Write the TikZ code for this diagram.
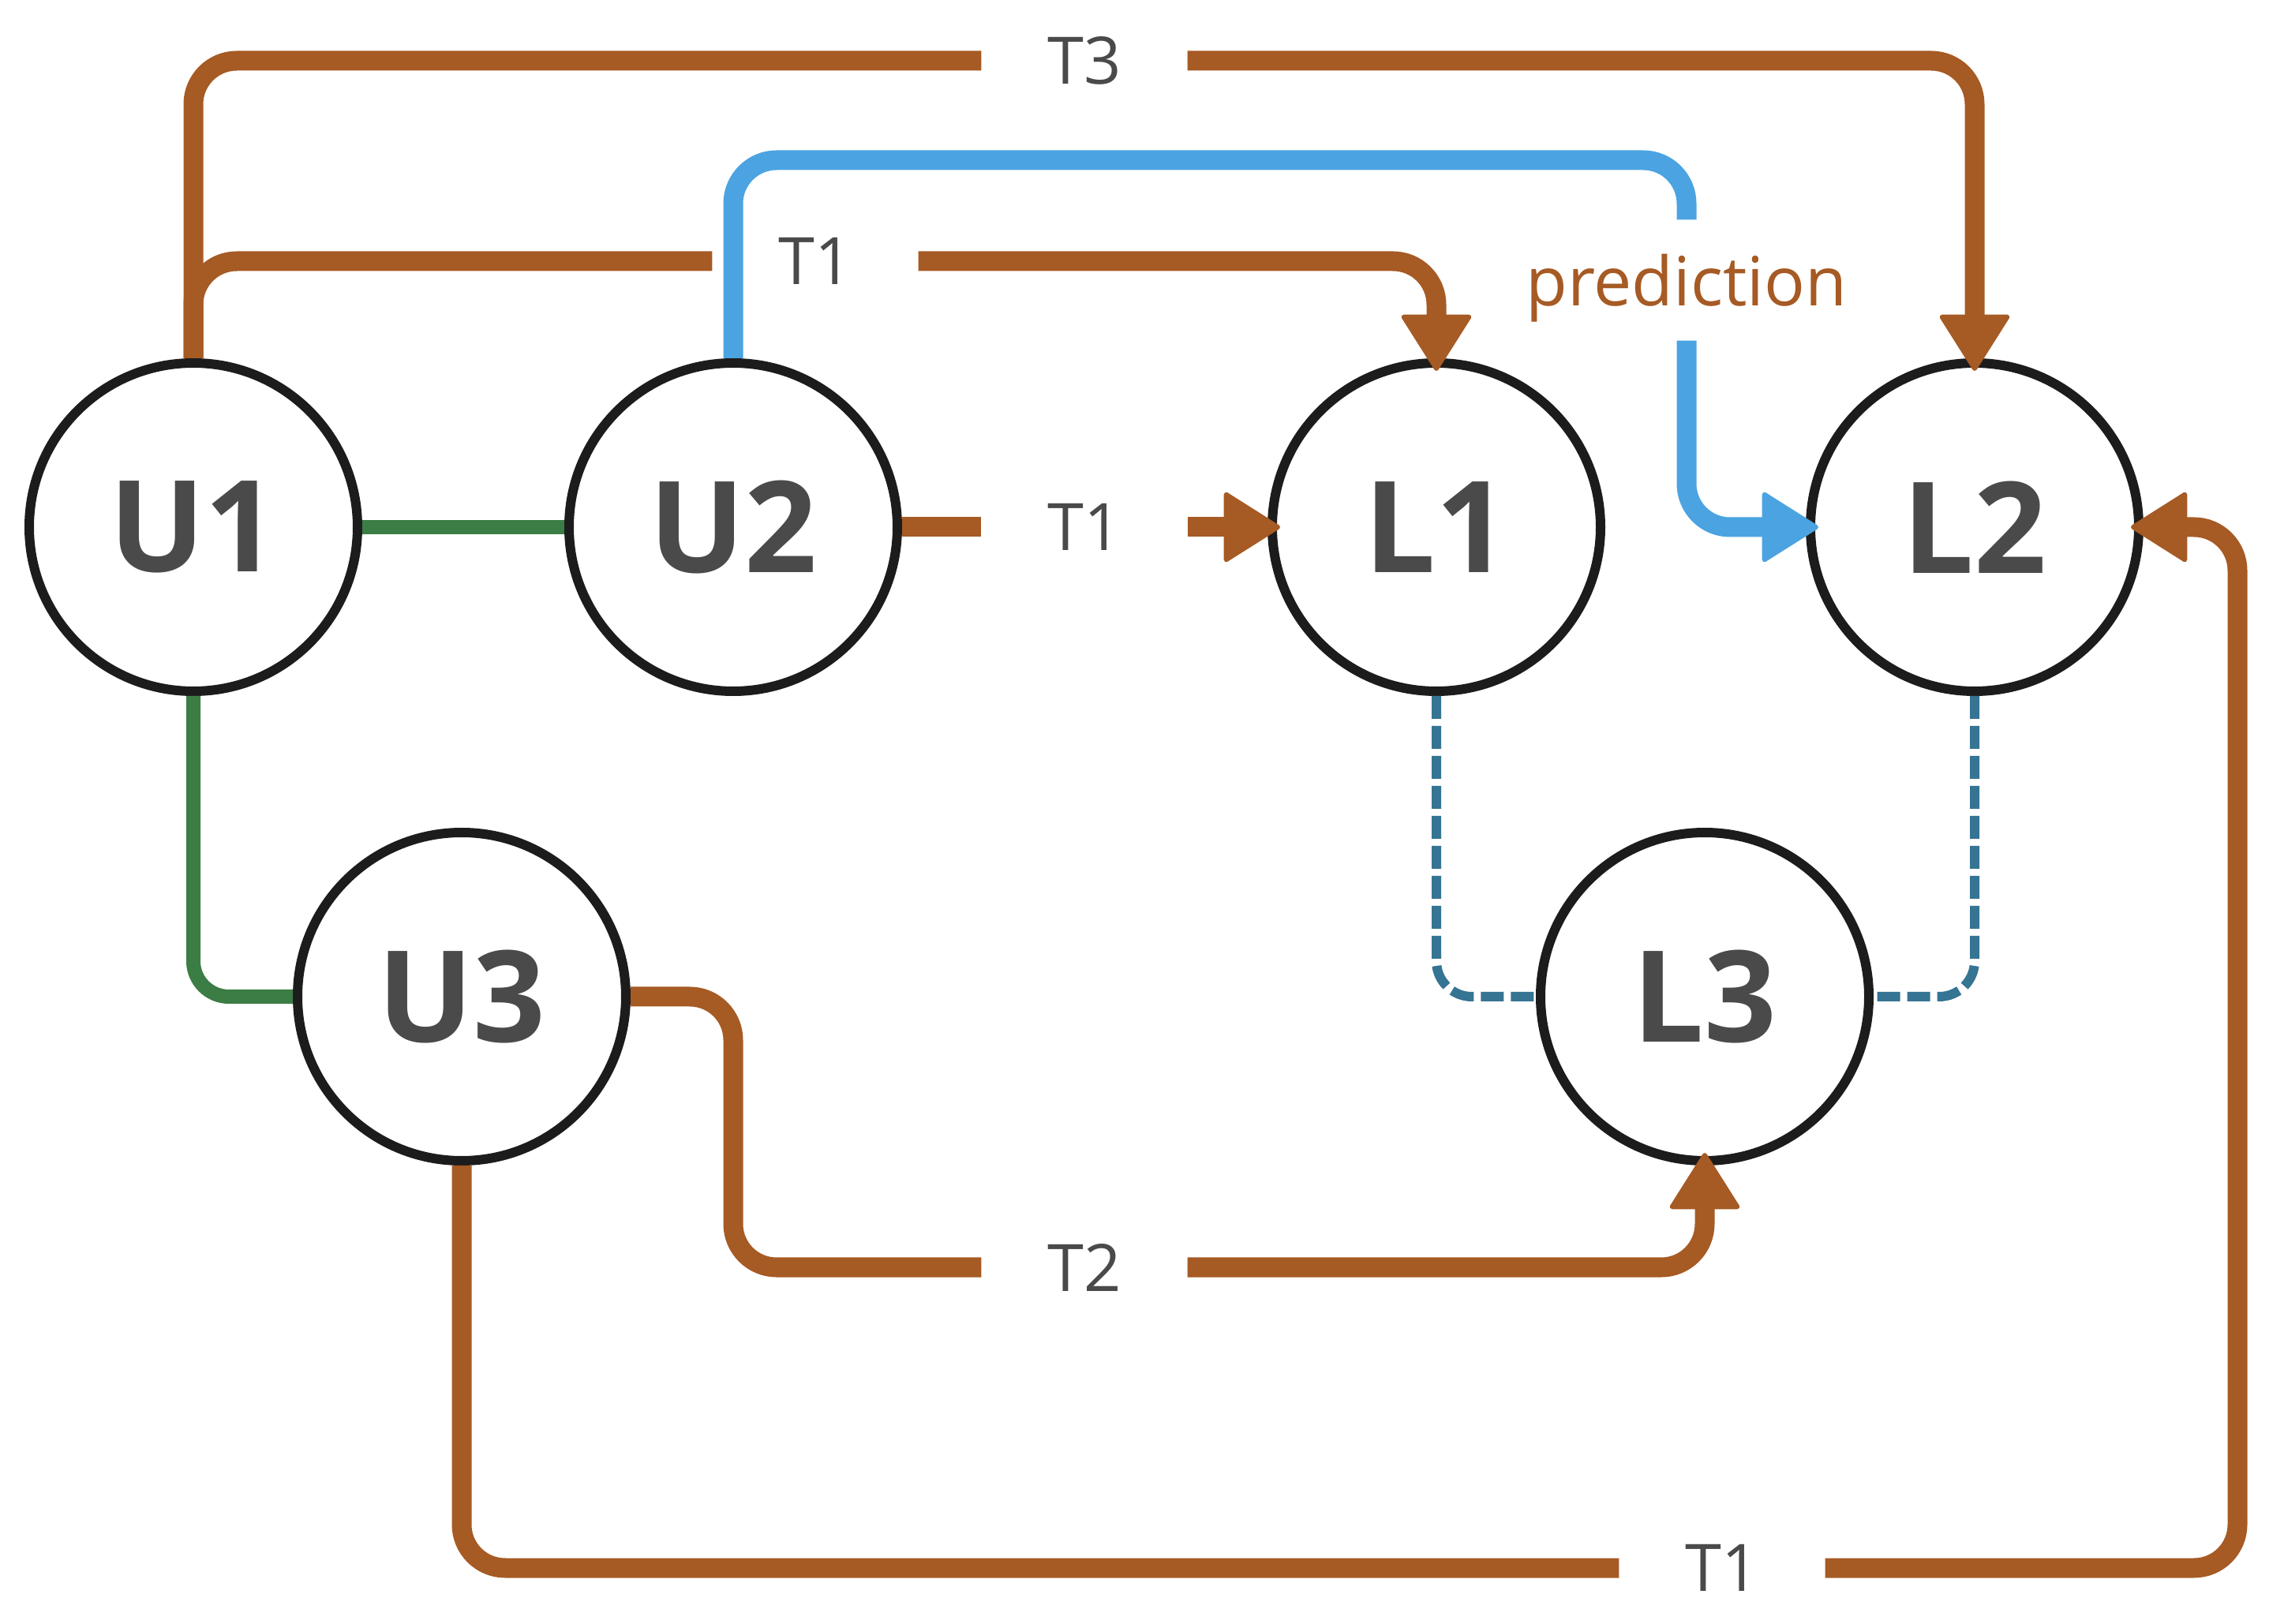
\documentclass[tikz,border=0pt]{standalone}
\usepackage{fontspec}
\setmainfont{Open Sans}
\usetikzlibrary{arrows.meta}
\definecolor{tbrown}{HTML}{A65A24}
\definecolor{tblue}{HTML}{4BA3E1}
\definecolor{tgreen}{HTML}{3B7D44}
\definecolor{tteal}{HTML}{367493}
\definecolor{tgrey}{HTML}{4A4A4A}
\definecolor{tblack}{HTML}{1C1C1C}

\begin{document}
\begin{tikzpicture}[
        circ/.style = {draw = tblack, line width = 0.12cm, circle, minimum size = 4.16cm, inner sep = 0pt,
            text = tgrey, font = \fontsize{45.8}{46}\selectfont\bfseries},
        lab/.style = {minimum width = 2.6cm, inner sep = 0pt, text = tgrey, font = \fontsize{23.6}{28}\selectfont},
        tline/.style = {draw = tbrown, line width = 0.25cm, rounded corners = 0.55cm},
        pline/.style = {draw = tblue, line width = 0.25cm, rounded corners = 0.55cm},
        uline/.style = {draw = tgreen, line width = 0.18cm, rounded corners = 0.45cm},
        lline/.style = {draw = tteal, line width = 0.12cm,
            dash pattern = on 0.29cm off 0.09cm, rounded corners = 0.45cm},
        toarrow/.style = {-{Triangle[length = 0.74cm, width = 0.92cm, round, line width = 0.06cm]},
            shorten > = -0.16cm}
    ]
            \useasboundingbox (0,0) rectangle (28.94,20.57);

            %Users
            \node [circ] (U1)at(2.45,13.89){U1};
            \node [circ] (U2)at(9.29,13.89){U2};
            \node [circ] (U3)at(5.85,7.94){U3};
            %Labels
            \node [circ] (L1)at(18.20,13.89){L1};
            \node [circ] (L2)at(25.02,13.89){L2};
            \node [circ] (L3)at(21.60,7.94){L3};

            %Edge labels
            \node [lab] (T3)at(13.74,19.80){T3};
            \node [lab] (T1a)at(10.33,17.26){T1};
            \node [lab] (T1b)at(13.74,13.89){T1};
            \node [lab] (T2)at(13.74,4.51){T2};
            \node [lab] (T1c)at(21.82,0.70){T1};
            \node [lab, text = tbrown, font = \fontsize{24.5}{28}\selectfont, text height = 1.09cm, text depth = 0.43cm,
            minimum width = 0pt, anchor = base]
            (pred)at(21.37,16.69){prediction};

            \coordinate (bt) at (21.37,18.54);
            \coordinate (rt) at (28.35,13.89);

            %T3
            \draw [tline](U1.north) |- (T3.west);
            \draw [tline, toarrow](T3.east) -| (L2.north);
            %T1
            \draw [tline](U1.north) |- (T1a.west);
            \draw [tline, toarrow](T1a.east) -| (L1.north);
            \draw [tline](U2.east) -- (T1b.west);
            \draw [tline, toarrow](T1b.east) -- (L1.west);
            \draw [tline](U3.south) |- (T1c.west);
            \draw [tline, toarrow](T1c.east) -| (rt) -- (L2.east);
            %T2
            \draw [tline](U3.east) -| (U2 |- T2.west) -- (T2.west);
            \draw [tline, toarrow](T2.east) -| (L3.south);
            %prediction
            \draw [pline](U2.north) |- (bt) -- (pred.north);
            \draw [pline, toarrow](pred.south) |- (L2.west);
            %U links
            \draw [uline](U1.east) -- (U2.west);
            \draw [uline](U1.south) |- (U3.west);
            %L links
            \draw [lline](L1.south) |- (L3.west);
            \draw [lline](L2.south) |- (L3.east);

        \end{tikzpicture}
\end{document}
